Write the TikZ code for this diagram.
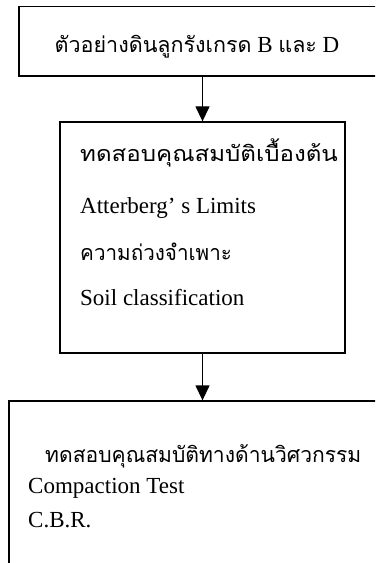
\documentclass[tikz,border=0pt]{standalone}
\usepackage{fontspec}
\setmainfont{Liberation Serif}
\newfontfamily\thaifont[Script=Thai]{Loma}
\usetikzlibrary{arrows.meta}
% Thai run, optionally stretched horizontally
\newcommand{\thaitext}[2][1]{\scalebox{#1}[1]{\thaifont\fontsize{21.5bp}{26bp}\selectfont #2}}
\tikzset{
  box/.style={draw=black, line width=1.3bp, rectangle, inner sep=0pt},
  label/.style={anchor=base west, inner sep=0pt, font=\fontsize{23bp}{27bp}\selectfont},
  flow/.style={draw=black, line width=1.3bp, -{Triangle[width=14bp,length=15bp]}}
}
\begin{document}
\begin{tikzpicture}[x=1bp, y=-1bp]
  \useasboundingbox (0,0) rectangle (375,563);
  \clip (0,0) rectangle (375,563);

  % boxes (the top and bottom ones run past the page edge)
  \node[box, minimum width=380bp, minimum height=69.5bp] (top) at (209,41.25) {};
  \node[box, minimum width=285bp, minimum height=231bp] (mid) at (202.5,237.5) {};
  \node[box, minimum width=390bp, minimum height=220bp] (bot) at (204,511) {};

  % connectors
  \draw[flow] (mid.north |- top.south) -- (mid.north);
  \draw[flow] (mid.south) -- (mid.south |- bot.north);

  % top box text
  \node[label, anchor=base] (t1) at (197,53) {\thaitext{ตัวอย่างดินลูกรังเกรด} B \thaitext{และ} D};

  % middle box text
  \node[label] (m1) at (80,162) {\thaitext[1.12]{ทดสอบคุณสมบัติเบื้องต้น}};
  \node[label] (m2) at (80,213) {Atterberg’ s Limits};
  \node[label] (m3) at (80,260) {\thaitext[0.96]{ความถ่วงจำเพาะ}};
  \node[label] (m4) at (80,305) {Soil classification};

  % bottom box text
  \node[label] (b1) at (45,462) {\thaitext[0.98]{ทดสอบคุณสมบัติทางด้านวิศวกรรม}};
  \node[label] (b2) at (28,493) {Compaction Test};
  \node[label] (b3) at (28,527) {C.B.R.};
\end{tikzpicture}
\end{document}
